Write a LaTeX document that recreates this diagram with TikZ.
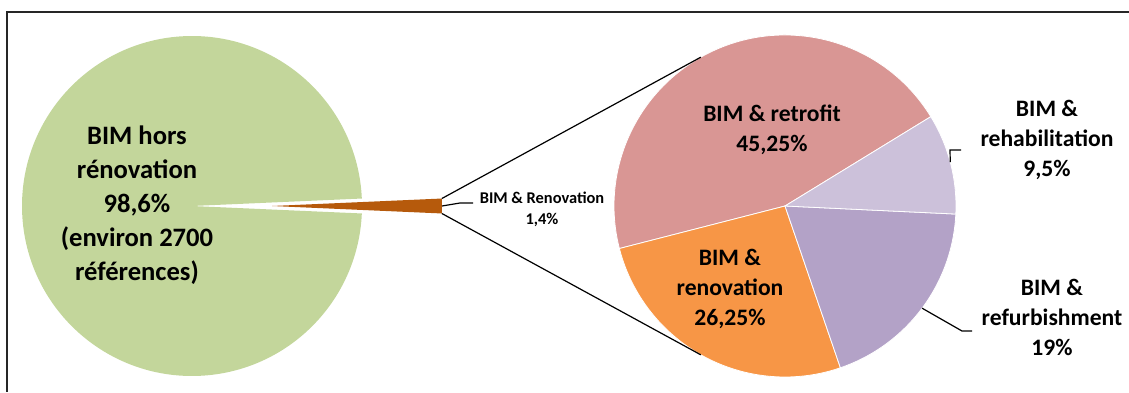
\documentclass[tikz,border=0pt]{standalone}
\usepackage{fontspec}
\setmainfont{Carlito}
\usepackage{tkz-euclide}

\definecolor{horsgreen}{HTML}{C3D69B}
\definecolor{renobrown}{HTML}{B65A0C}
\definecolor{retropink}{HTML}{D99694}
\definecolor{rehablav}{HTML}{CCC1DA}
\definecolor{refurblav}{HTML}{B3A2C7}
\definecolor{renorange}{HTML}{F79646}

\tikzset{
  boxline/.style={line width=1pt, black!85},
  leader/.style={line width=0.6pt, black},
  slice/.style={draw=white, line width=0.4pt},
  biglabel/.style={font=\bfseries\fontsize{13.3}{17}\selectfont, align=center, inner sep=0pt},
  pielabel/.style={font=\bfseries\fontsize{11.8}{15}\selectfont, align=center, inner sep=0pt},
  smalllabel/.style={font=\bfseries\fontsize{8.2}{10.5}\selectfont, align=center, inner sep=0pt}
}

\begin{document}
\begin{tikzpicture}[x=0.5pt,y=0.5pt]
\useasboundingbox (0,0) rectangle (1129,392);
\draw[boxline] (1129,380) -- (7,380) -- (7,0);
\tkzDefPoints{192/186/O, 272/186/B, 785/186/P}
\tkzDefShiftPoint[B](2.52:170){B1}
\tkzDefShiftPoint[B](-2.52:170){B2}
\tkzDefShiftPoint[B](0:170){Bm}
\tkzDefShiftPoint[P](119.5:171){P1}
\tkzDefShiftPoint[P](240.5:171){P2}
\tkzDefShiftPoint[P](14.9:171){H0}
\tkzDefShiftPoint[P](-36.7:171){F0}
\tkzDefPoints{460/189/K1, 473/189/K2, 950/242/H1, 961/242/H2, 962/61/F1, 972/61/F2}
% left pie, with the renovation slice pulled out
\fill[horsgreen] (O) -- ++(2.52:170) arc[start angle=2.52, end angle=357.48, radius=170] -- cycle;
\fill[renobrown] (B) -- (B2) arc[start angle=-2.52, end angle=2.52, radius=170] -- cycle;
% right pie
\fill[retropink, slice] (P) -- ++(31.5:171) arc[start angle=31.5, end angle=194.4, radius=171] -- cycle;
\fill[renorange, slice] (P) -- ++(194.4:171) arc[start angle=194.4, end angle=288.9, radius=171] -- cycle;
\fill[refurblav, slice] (P) -- ++(-71.1:171) arc[start angle=-71.1, end angle=-2.7, radius=171] -- cycle;
\fill[rehablav, slice] (P) -- ++(-2.7:171) arc[start angle=-2.7, end angle=31.5, radius=171] -- cycle;
\draw[leader] (B1) -- (P1);
\draw[leader] (B2) -- (P2);
\draw[leader] (Bm) -- (K1) -- (K2);
\draw[leader] (H0) -- (H1) -- (H2);
\draw[leader] (F0) -- (F1) -- (F2);
\node[biglabel] (hors) at (137,186.5) {BIM hors\\rénovation\\98,6\%\\(environ 2700\\références)};
\node[smalllabel] (reno) at (542,182.5) {BIM \& Renovation\\1,4\%};
\node[pielabel] (retrofit) at (772,262) {BIM \& retrofit\\45,25\%};
\node[pielabel] (renovation) at (730,103) {BIM \&\\renovation\\26,25\%};
\node[pielabel] (rehab) at (1047,252.5) {BIM \&\\rehabilitation\\9,5\%};
\node[pielabel] (refurb) at (1052,74.5) {BIM \&\\refurbishment\\19\%};
\end{tikzpicture}
\end{document}
